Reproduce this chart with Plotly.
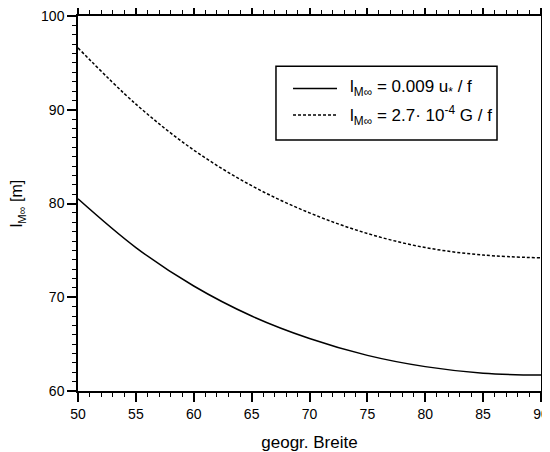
import plotly.graph_objects as go

# geographic latitude (degrees)
breite = [50, 55, 60, 65, 70, 75, 80, 85, 90]
# l_Moo = 0.009 u* / f
l_ustar = [80.5, 75.3, 71.2, 68.0, 65.6, 63.8, 62.6, 61.9, 61.7]
# l_Moo = 2.7e-4 G / f
l_geo = [96.6, 90.6, 85.7, 81.9, 79.0, 76.8, 75.3, 74.5, 74.2]

name1 = "l<sub>M\u221e</sub> = 0.009 u<sub>*</sub> / f"
name2 = "l<sub>M\u221e</sub> = 2.7\u00b7 10<sup>-4</sup> G / f"

FONT = "Liberation Sans, Arial"

fig = go.Figure()
fig.add_trace(go.Scatter(x=breite, y=l_ustar, mode="lines", name=name1, showlegend=False,
                         line=dict(color="black", width=1.5, shape="spline")))
fig.add_trace(go.Scatter(x=breite, y=l_geo, mode="lines", name=name2, showlegend=False,
                         line=dict(color="black", width=1.5, shape="spline", dash="3px,2px")))

axis_common = dict(
    showline=True, linecolor="black", linewidth=1.5, mirror="ticks",
    ticks="outside", tickcolor="black", tickwidth=1.5, ticklen=9,
    showgrid=False, zeroline=False, automargin=False, ticklabeloverflow="allow",
    tickfont=dict(family=FONT, size=14, color="black"),
    minor=dict(ticks="outside", ticklen=4, tickcolor="black", tickwidth=1.2, dtick=1, showgrid=False),
)

# page body has an 8px margin, so the figure is sized to fill the rest of the window
fig.update_layout(
    width=542, height=444,
    margin=dict(l=70, r=9, t=8, b=61),
    paper_bgcolor="white", plot_bgcolor="white",
    font=dict(family=FONT, color="black"),
    xaxis=dict(range=[50, 90], dtick=5, tick0=50,
               title=dict(text="geogr. Breite", font=dict(size=17), standoff=16),
               **axis_common),
    yaxis=dict(range=[60, 100], dtick=10, tick0=60,
               title=dict(text="l<sub>M\u221e</sub> [m]", font=dict(size=16), standoff=14),
               **axis_common),
    showlegend=False,
)

# legend box drawn by hand (paper coordinates)
fig.add_shape(type="rect", xref="paper", yref="paper", x0=0.4276, x1=0.905, y0=0.6695, y1=0.8657,
              line=dict(color="black", width=1.5), fillcolor="white", layer="above")
rows = [(0.807, name1, "solid"), (0.7357, name2, "3px,2px")]
for yy, txt, dash in rows:
    fig.add_shape(type="line", xref="paper", yref="paper", x0=0.4644, x1=0.5594, y0=yy, y1=yy,
                  line=dict(color="black", width=1.5, dash=dash), layer="above")
    fig.add_annotation(xref="paper", yref="paper", x=0.583, y=yy, text=txt, showarrow=False,
                       xanchor="left", yanchor="middle", font=dict(size=17, family=FONT, color="black"))

fig.write_html("out.html")
